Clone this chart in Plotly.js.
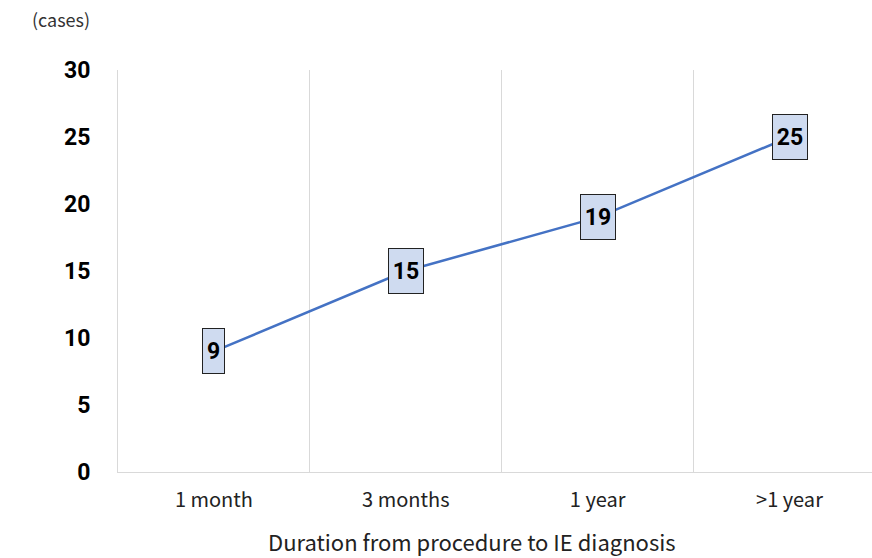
<!DOCTYPE html>
<html>
<head>
<meta charset="utf-8">
<script src="https://cdn.plot.ly/plotly-3.0.1.min.js"></script>
<style>html,body{margin:0;padding:0;background:#fff;}#chart{width:872px;height:558px;}</style>
</head>
<body>
<div id="chart"></div>
<script>
const categories = ["1 month", "3 months", "1 year", ">1 year"];
const cases = [9, 15, 19, 25];
const yTicks = [0, 5, 10, 15, 20, 25, 30];

const trace = {
  x: categories,
  y: cases,
  type: "scatter",
  mode: "lines",
  line: {color: "#4472C4", width: 2.5},
  hoverinfo: "skip"
};

const annotations = categories.map((c, i) => ({
  x: c, y: cases[i], xref: "x", yref: "y",
  text: "<b>" + cases[i] + "</b>",
  showarrow: false,
  font: {family: "Roboto, 'Noto Sans', sans-serif", size: 23, color: "#000"},
  bgcolor: "#cfdbf0",
  bordercolor: "#222",
  borderwidth: 1,
  borderpad: 0,
  width: String(cases[i]).length > 1 ? 34 : 21,
  height: 44
}));
annotations.push({
  xref: "paper", yref: "paper", x: -0.0756, y: 1.128,
  xanchor: "center", yanchor: "middle",
  text: "(cases)", showarrow: false,
  font: {family: "'Noto Sans CJK JP', sans-serif", size: 18, color: "#333"}
});
annotations.push({
  xref: "paper", yref: "paper", x: 0.4695, y: -0.1716,
  xanchor: "center", yanchor: "middle",
  text: "Duration from procedure to IE diagnosis", showarrow: false,
  font: {family: "'Noto Sans CJK JP', sans-serif", size: 22, color: "#222"}
});

const layout = {
  width: 872, height: 558,
  margin: {l: 118, r: 0, t: 70, b: 86},
  paper_bgcolor: "#fff", plot_bgcolor: "#fff",
  showlegend: false,
  xaxis: {
    type: "category",
    range: [-0.5, 3.43],
    tickson: "boundaries",
    showgrid: true, gridcolor: "#d9d9d9", gridwidth: 1,
    showline: true, linecolor: "#d9d9d9", linewidth: 1,
    ticks: "", ticklabelstandoff: 10,
    tickfont: {family: "'Noto Sans CJK JP', sans-serif", size: 20, color: "#222"},
    fixedrange: true
  },
  yaxis: {
    range: [0, 30],
    tickvals: yTicks,
    ticktext: yTicks.map(v => "<b>" + v + "</b>"),
    showgrid: false, zeroline: false,
    showline: true, linecolor: "#d9d9d9", linewidth: 1,
    ticks: "", ticklabelstandoff: 22,
    tickfont: {family: "Roboto, 'Noto Sans', sans-serif", size: 23, color: "#000"},
    fixedrange: true
  },
  annotations: annotations
};

Plotly.newPlot("chart", [trace], layout, {displayModeBar: false, staticPlot: true});
</script>
</body>
</html>
